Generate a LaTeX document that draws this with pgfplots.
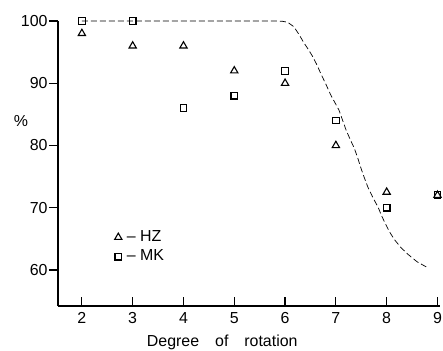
\documentclass[border=0pt]{standalone}
\usepackage{fontspec}
\setmainfont{Liberation Sans}
\usepackage{pgfplots}
\pgfplotsset{compat=1.18}
\begin{document}
\fontsize{16}{18}\selectfont
\begin{tikzpicture}[x=1bp,y=1bp]
\path[use as bounding box] (-58,-44) rectangle (385,306);
\begin{axis}[
  at={(0,0)}, anchor=south west,
  width=382bp, height=285bp, scale only axis,
  xmin=1.53, xmax=9.05, ymin=54.2, ymax=100,
  axis x line=bottom, axis y line=left,
  axis line style={-, line width=1.4bp},
  xtick={2,...,9}, ytick={60,70,80,90,100},
  tick align=outside, major tick length=9bp,
  tick style={line width=1.2bp, black},
  every x tick/.append style={yshift=9bp},
  xticklabel style={yshift=8bp},
  yticklabel style={xshift=4bp},
  /pgf/number format/assume math mode=true,
  tick label style={font=\fontsize{16}{18}\selectfont},
  clip=false,
  legend style={draw=none, fill=none, at={(rel axis cs:0.14,0.135)}, anchor=south west,
    font=\fontsize{16}{18}\selectfont, row sep=2bp},
  legend cell align=left,
  legend image code/.code={\draw[#1] plot coordinates {(0.3cm,0cm)};},
]
\addplot[only marks, mark=triangle, mark size=4.2bp, mark options={line width=1.1bp, black, solid}] coordinates {
(2,98) (3,96) (4,96) (5,92) (6,90) (7,80) (8,72.5) (9,72)};
\addlegendentry{\hspace{3bp}-- HZ}
\addplot[only marks, mark=square, mark size=3.3bp, mark options={line width=1.1bp, black, solid}] coordinates {
(2,100) (3,100) (4,86) (5,88) (6,92) (7,84) (8,70) (9,72)};
\addlegendentry{\hspace{3bp}-- MK}
\addplot[line width=0.7bp, dash pattern=on 6bp off 3bp, black, forget plot, line join=round] coordinates {
(2,100) (5.8,100) (5.95,99.95) (6.05,99.8) (6.17,99.1) (6.27,97.9) (6.37,96.5) (6.46,95.4) (6.55,94.2) (6.63,92.9) (6.70,91.6) (6.80,89.9) (6.90,88.1) (6.98,86.9) (7.06,85.7) (7.13,84.1) (7.20,82.5) (7.28,81.0) (7.36,79.6) (7.43,78.0) (7.50,76.2) (7.57,74.6) (7.63,73.3) (7.73,71.6) (7.83,70.1) (7.90,68.7) (7.97,67.5) (8.05,66.2) (8.15,64.9) (8.28,63.6) (8.42,62.5) (8.6,61.3) (8.82,60.3)};
\node at (rel axis cs:-0.097,0.65) {\%};
\node at (rel axis cs:0.43,-0.126) {Degree\hspace{1em}of\hspace{1em}rotation};
\end{axis}
\end{tikzpicture}
\end{document}
